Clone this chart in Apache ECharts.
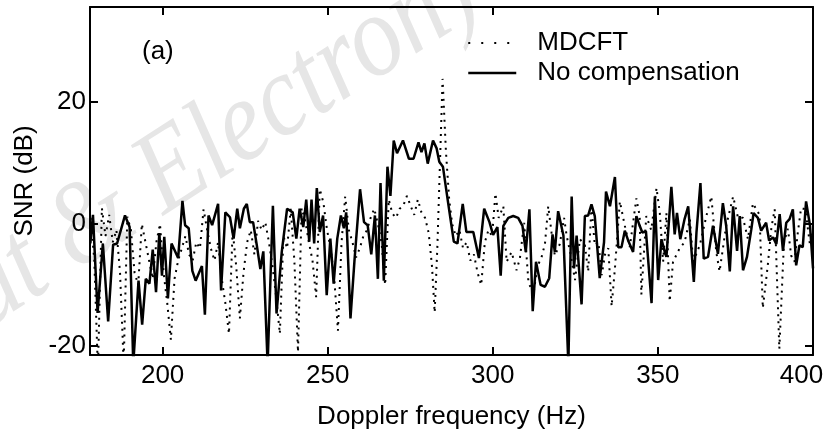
<!DOCTYPE html>
<html>
<head>
<meta charset="utf-8">
<script src="https://cdn.jsdelivr.net/npm/echarts@6/dist/echarts.min.js"></script>
<style>html,body{margin:0;padding:0;background:#fff}#c{width:838px;height:435px}</style>
</head>
<body>
<div id="c"></div>
<script>
const seriesNames = ['MDCFT', 'No compensation'];
const xTickValues = [200, 250, 300, 350];
const xLabelValues = [200, 250, 300, 350, 393.5];
const yTickValues = [-20, 0, 20];

const mdcftFreq = [178.2,179.3,180.4,181.6,182.7,183.8,184.9,186.0,187.1,188.2,189.3,190.4,191.5,192.6,193.7,194.8,195.9,197.0,198.1,199.2,200.3,201.4,202.5,203.6,204.7,205.8,206.9,208.0,209.1,210.2,211.3,212.4,213.5,214.6,215.7,216.8,217.9,219.0,220.1,221.2,222.3,223.4,224.5,225.6,226.7,227.8,228.9,230.0,231.1,232.2,233.3,234.4,235.5,236.6,237.7,238.8,239.9,241.0,242.1,243.2,244.3,245.4,246.5,247.6,248.7,249.8,250.9,252.0,253.1,254.2,255.3,256.4,257.5,258.6,259.7,260.8,261.9,263.0,264.1,265.2,266.3,267.4,268.5,269.6,270.7,271.8,272.9,274.0,275.1,276.2,277.3,278.4,279.5,280.6,281.6,282.4,283.2,284.8,285.8,286.8,287.7,288.8,289.9,291.0,292.1,293.2,294.3,295.4,296.5,297.6,298.7,299.8,300.8,301.8,303.2,304.2,305.7,307.2,308.2,309.5,310.8,312.3,313.5,314.8,315.8,316.8,317.8,318.8,320.3,321.6,322.4,323.6,324.9,326.4,327.9,328.9,329.9,330.9,332.0,333.0,334.0,335.0,336.0,337.0,338.5,340.0,341.5,343.5,344.5,345.0,346.5,348.0,349.6,350.6,351.6,352.6,353.6,354.6,356.6,358.1,359.7,360.7,362.7,364.7,366.2,367.7,368.7,370.7,372.8,374.3,375.8,377.3,378.8,380.8,381.8,383.3,384.4,385.4,386.8,388.2,389.4,390.4,391.4,392.4,393.4,394.7,396.1,397.0];
const mdcftSnr = [1.0,-6,-24,2.6,-2,1.5,-3,-1,-8,-23,1.2,-1,-8,-10,0,-3,-6,-9,-3,0,-8,-13,-19,-9,-6,-4,-2,-5,-6,-3,-4,2.4,-1,-4,-6,-3,-9,-13,-18,-1,-7,-15.5,-8,-3,-1,-5,0.5,-1,0.3,-3,-7,-12,-18,-2,-4,2.5,-6,-21,2.6,0.5,-3,-6,-12,5.7,3.5,-1,-4,-9,-17.5,-3,4.5,-1,-3,-5.5,-4,-2,-1,1,2.5,0,-3,-10,4,1.7,1,2.5,3,4.6,3,1.5,4,1.9,1.0,-1.5,-7,-14.5,-4,23.8,12,4,0,-2,-1,-4,-3,-6,-5,-8,-10,-3,-1,-2,5,1,2.9,-6.2,-4.6,-7.6,-5.7,0.2,-9.5,-11.6,-7,-5.4,-3.3,2.9,-1.4,-5.2,-3.3,1,-2,-5,-9.2,-2.5,-3.5,-7.8,2.9,-3.5,-3,-8.4,-5,-4,-13.5,-7.3,3.7,-0.3,-3.8,4.2,1.3,-11.6,1.3,-1,5.9,1.8,-6.2,1.8,-12.7,-6.2,-4,-3,0.8,-6.2,-3.5,1.3,4.5,-4.6,-7.8,-0.3,4.5,1,1,-2.5,3.4,1.5,-13.8,-6.8,-0.6,2.4,-20.5,-3,-0.8,-5.2,-6.2,-1.4,2.6,2.4,-3.5,-1];

const noCompFreq = [178.1,178.9,180.3,181.9,183.5,185.0,186.2,188.6,190.0,191.1,192.7,193.8,194.9,196.0,197.0,198.0,199.0,199.8,200.5,201.6,202.7,204.7,206.0,206.8,207.9,209.0,210.0,211.9,212.8,213.9,215.0,216.8,217.7,219.0,220.4,221.5,222.6,223.4,224.6,225.5,226.4,227.4,228.5,229.6,230.5,231.8,233.4,234.5,236.1,237.7,239.4,240.5,241.5,242.6,243.5,244.4,245.1,245.9,246.7,247.6,248.6,249.7,250.8,251.8,252.9,254.0,254.9,255.6,256.9,258.1,259.8,261.0,262.1,263.2,264.3,265.2,266.0,267.0,268.1,269.0,270.0,271.0,272.8,274.6,276.0,277.5,278.4,279.3,280.3,281.9,283.0,283.8,284.9,286.6,288.2,289.3,290.9,292.0,294.1,295.8,297.4,299.0,300.1,301.4,302.4,303.2,304.7,306.2,307.7,309.0,310.0,311.1,312.1,313.1,314.5,315.8,317.1,318.1,318.8,319.8,321.4,322.9,323.9,324.6,325.4,326.9,327.9,328.9,329.9,330.9,332.4,333.7,334.3,335.5,337.0,338.0,339.0,340.0,341.0,342.5,343.5,344.5,345.3,346.4,347.0,348.1,349.1,350.1,351.1,352.1,352.6,354.1,355.1,355.8,356.8,358.1,359.2,360.9,361.7,362.9,363.9,365.2,366.7,368.2,369.7,370.7,371.8,372.8,374.0,374.8,375.8,377.0,378.3,379.0,380.3,381.3,382.8,383.7,384.9,385.9,386.9,387.9,388.9,389.9,390.9,391.9,392.9,393.9,394.9,396.1,397.0];
const noCompSnr = [-3.2,1.5,-14.6,-3.2,-16,-3.4,-3.2,1.4,-0.5,-23,-9.3,-16.5,-9,-9.8,-4.2,-11.2,-1.5,-8.5,-2.1,-12.2,-3.2,-5.6,3.8,-0.2,-0.7,-7.7,-9.3,-6.9,-14.9,1.4,-0.2,3.3,-10.9,1.9,1.1,-2.4,2.5,-0.7,2.5,3.3,0.3,0.3,-3.4,-7.4,-4.5,-23,3,-14.7,-4.5,2.5,1.9,-2.4,2.5,-0.5,4,-2.9,4,-3.2,5.9,-1.3,1.4,-11.7,-2.4,-9.8,-2.4,1.4,-0.7,1.9,-15.5,-6.1,5.7,0.3,-0.2,-5,1.4,-9,6.7,-9.3,9.4,4.6,13.7,11.6,13.7,10.7,10.7,13.4,11.8,13.2,9.9,13.7,12.4,10.2,9.4,3,-2.9,-3.2,3.3,-1.3,-1.3,-5.6,2.5,0.3,-1.8,-0.5,-8.5,-0.3,1,1.3,1,-0.3,-4.6,2.4,-14.3,-6.2,-10,-10.3,-8.9,-1.7,-4.6,2.1,-1.9,-23,4.5,-7.3,-1.9,-13.2,1.3,1.4,3.2,1.3,-8.9,-3,5.3,2.9,7.7,-3.8,-3.8,-1.1,-2.7,-4.6,1.3,-0.3,-1.4,-1.2,-5.4,-13,4.5,-9.2,-2.5,-4.6,-5.4,6.1,-1.7,1.8,-2.5,0.8,2.9,-9.5,-1.4,6.7,-5.7,-5.4,-0.3,-4.9,3.4,-0.3,-7.8,2.9,-4.4,1.3,-7.6,-5.4,-0.9,1.8,1,-1.1,0.2,-2.7,-2.2,-3.3,1.6,-4.4,0.2,0.8,2.4,-6.8,-3.5,-3.8,3.7,-0.3,-7.3];

const zip = (xs, ys) => xs.map((x, i) => [x, ys[i]]);
const FONT = '"Liberation Sans", Arial, sans-serif';
const FS = 26;

const chart = echarts.init(document.getElementById('c'), null, {renderer: 'canvas'});
const axisLineStyle = {color: '#000', width: 2};
const tickStyle = {color: '#000', width: 2};
chart.setOption({
  animation: false,
  backgroundColor: '#fff',
  grid: {left: 90, right: 25, top: 7, bottom: 74, containLabel: false},
  legend: {
    orient: 'vertical', left: 462, top: 25,
    itemWidth: 48, itemHeight: 28, itemGap: 4,
    textStyle: {fontFamily: FONT, fontSize: FS, color: '#000', padding: [0, 0, 0, 16]},
    data: [
      {name: seriesNames[0], itemStyle: {opacity: 0}, lineStyle: {type: [2, 11], width: 2, color: '#000'}},
      {name: seriesNames[1], itemStyle: {opacity: 0}, lineStyle: {width: 2.5, color: '#000'}}
    ]
  },
  graphic: [
    {type: 'text', x: 2, y: 352, rotation: 0.57, scaleY: 1.15, z: -10, silent: true,
     style: {text: 'ut & Electron)', font: 'italic 102px "Liberation Serif", serif', fill: '#e6e6e6', verticalAlign: 'bottom'}},
    {type: 'text', x: 142, y: 39, style: {text: '(a)', font: FS + 'px ' + FONT, fill: '#000'}}
  ],
  xAxis: [{
    type: 'value', min: 178, max: 397, position: 'bottom',
    name: 'Doppler frequency (Hz)', nameLocation: 'middle', nameGap: 49,
    nameTextStyle: {fontFamily: FONT, fontSize: FS, color: '#000'},
    axisLine: {show: true, onZero: false, lineStyle: axisLineStyle},
    axisTick: {show: true, inside: true, length: 8, customValues: xTickValues, lineStyle: tickStyle},
    axisLabel: {show: true, margin: 8, customValues: xLabelValues, fontFamily: FONT, fontSize: FS, color: '#000',
      formatter: v => String(Math.round(v / 50) * 50)},
    splitLine: {show: false}
  }, {
    type: 'value', min: 178, max: 397, position: 'top',
    axisLine: {show: true, onZero: false, lineStyle: axisLineStyle},
    axisTick: {show: true, inside: true, length: 8, customValues: xTickValues, lineStyle: tickStyle},
    axisLabel: {show: false}, splitLine: {show: false}
  }],
  yAxis: [{
    type: 'value', min: -21.5, max: 35.6, position: 'left',
    name: 'SNR (dB)', nameLocation: 'middle', nameGap: 44,
    nameTextStyle: {fontFamily: FONT, fontSize: FS, color: '#000'},
    axisLine: {show: true, onZero: false, lineStyle: axisLineStyle},
    axisTick: {show: true, inside: true, length: 8, customValues: yTickValues, lineStyle: tickStyle},
    axisLabel: {show: true, margin: 4, customValues: yTickValues, fontFamily: FONT, fontSize: FS, color: '#000'},
    splitLine: {show: false}
  }, {
    type: 'value', min: -21.5, max: 35.6, position: 'right',
    axisLine: {show: true, onZero: false, lineStyle: axisLineStyle},
    axisTick: {show: true, inside: true, length: 8, customValues: yTickValues, lineStyle: tickStyle},
    axisLabel: {show: false}, splitLine: {show: false}
  }],
  series: [{
    name: seriesNames[0], type: 'line', xAxisIndex: 0, yAxisIndex: 0,
    data: zip(mdcftFreq, mdcftSnr), symbol: 'none', clip: true,
    itemStyle: {color: '#000'},
    lineStyle: {color: '#000', width: 2, type: [2, 5], cap: 'butt'}
  }, {
    name: seriesNames[1], type: 'line', xAxisIndex: 0, yAxisIndex: 0,
    data: zip(noCompFreq, noCompSnr), symbol: 'none', clip: true,
    itemStyle: {color: '#000'},
    lineStyle: {color: '#000', width: 2.5}
  }]
});
</script>
</body>
</html>
